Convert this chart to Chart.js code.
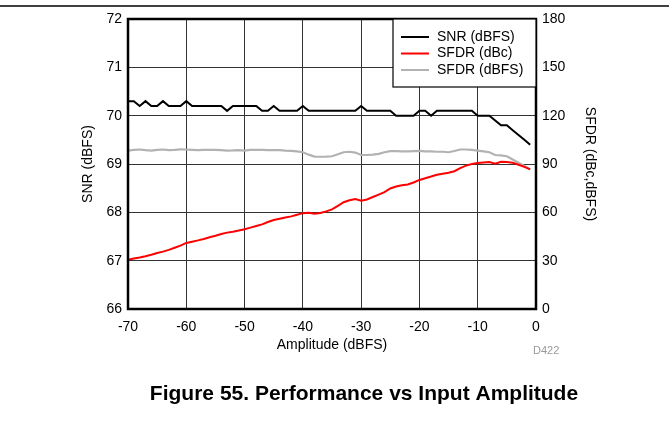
<!DOCTYPE html>
<html>
<head>
<meta charset="utf-8">
<script src="https://cdn.jsdelivr.net/npm/chart.js@4.4.0/dist/chart.umd.min.js"></script>
<style>
html, body { margin: 0; padding: 0; background: #fff; }
#wrap { width: 669px; height: 434px; }
</style>
</head>
<body>
<div id="wrap"><canvas id="perfChart" width="669" height="434"></canvas></div>
<script>
// input amplitude (dBFS)
const amplitude = [-70, -69, -68, -67, -66, -65, -64, -63, -62, -61,
    -60, -59, -58, -57, -56, -55, -54, -53, -52, -51,
    -50, -49, -48, -47, -46, -45, -44, -43, -42, -41,
    -40, -39, -38, -37, -36, -35, -34, -33, -32, -31,
    -30, -29, -28, -27, -26, -25, -24, -23, -22, -21,
    -20, -19, -18, -17, -16, -15, -14, -13, -12, -11,
    -10, -9, -8, -7, -6, -5, -4, -3, -2, -1];

const snr = [70.3, 70.3, 70.2, 70.3, 70.2, 70.2, 70.3, 70.2, 70.2, 70.2,
    70.3, 70.2, 70.2, 70.2, 70.2, 70.2, 70.2, 70.1, 70.2, 70.2,
    70.2, 70.2, 70.2, 70.1, 70.1, 70.2, 70.1, 70.1, 70.1, 70.1,
    70.2, 70.1, 70.1, 70.1, 70.1, 70.1, 70.1, 70.1, 70.1, 70.1,
    70.2, 70.1, 70.1, 70.1, 70.1, 70.1, 70.0, 70.0, 70.0, 70.0,
    70.1, 70.1, 70.0, 70.1, 70.1, 70.1, 70.1, 70.1, 70.1, 70.1,
    70.0, 70.0, 70.0, 69.9, 69.8, 69.8, 69.7, 69.6, 69.5, 69.4];

const sfdrDbc = [30.5, 31.3, 32.0, 32.8, 33.7, 34.8, 35.6, 36.7, 38.0, 39.3,
    41.0, 41.8, 42.6, 43.5, 44.5, 45.5, 46.6, 47.4, 48.0, 48.7,
    49.5, 50.5, 51.5, 52.5, 54.0, 55.2, 56.0, 56.8, 57.5, 58.5,
    59.5, 59.8, 59.2, 59.6, 60.6, 61.8, 64.0, 66.3, 67.5, 68.3,
    67.2, 68.0, 69.5, 71.0, 72.5, 74.8, 76.0, 76.8, 77.3, 78.5,
    80.1, 81.2, 82.2, 83.3, 84.0, 84.6, 85.5, 87.5, 89.0, 90.0,
    90.6, 91.0, 91.2, 90.2, 91.4, 91.3, 90.8, 89.5, 88.2, 86.7];

const sfdrDbfs = [98.3, 98.8, 99.0, 98.6, 98.3, 98.8, 99.0, 98.6, 98.8, 99.1,
    99.0, 98.8, 98.6, 98.8, 98.8, 98.8, 98.6, 98.3, 98.4, 98.6,
    98.3, 98.8, 98.8, 98.8, 98.6, 98.6, 98.6, 98.3, 98.1, 97.8,
    97.3, 95.8, 94.6, 94.5, 94.6, 94.8, 96.1, 97.3, 97.6, 97.1,
    95.6, 95.6, 95.8, 96.3, 97.3, 98.0, 98.0, 97.8, 97.8, 98.0,
    98.1, 97.8, 97.8, 97.6, 97.6, 97.3, 98.1, 99.0, 99.0, 98.8,
    98.3, 97.8, 97.3, 95.6, 95.3, 94.8, 92.8, 90.8, 88.8, 86.7];

const seriesLabels = ['SNR (dBFS)', 'SFDR (dBc)', 'SFDR (dBFS)'];
const seriesColors = ['#000000', '#ff0000', '#b2b2b2'];

const FONT = 'Arial, "Liberation Sans", sans-serif';
Chart.defaults.font.family = FONT;
Chart.defaults.font.size = 14;
Chart.defaults.color = '#000';

function toPoints(ys) {
    return amplitude.map((x, i) => ({ x: x, y: ys[i] }));
}

// frame, legend box, header rule, figure caption
const decor = {
    id: 'decor',
    afterDraw(chart) {
        const ctx = chart.ctx;
        const a = chart.chartArea;
        ctx.save();
        // rule at top of page
        ctx.strokeStyle = '#000';
        ctx.lineWidth = 1.5;
        ctx.beginPath();
        ctx.moveTo(0, 6);
        ctx.lineTo(669, 6);
        ctx.stroke();

        // plot frame
        ctx.lineWidth = 2.5;
        ctx.strokeRect(a.left, a.top, a.right - a.left, a.bottom - a.top);

        // legend
        const lx = 393, ly = a.top, lw = a.right - lx, lh = 68;
        ctx.fillStyle = '#fff';
        ctx.fillRect(lx, ly, lw, lh);
        ctx.lineWidth = 1.2;
        ctx.strokeRect(lx, ly, lw, lh);
        ctx.font = '14px ' + FONT;
        ctx.textBaseline = 'middle';
        chart.data.datasets.forEach((ds, i) => {
            const y = ly + 18 + i * 16.5;
            ctx.strokeStyle = ds.borderColor;
            ctx.lineWidth = 2;
            ctx.beginPath();
            ctx.moveTo(lx + 8, y);
            ctx.lineTo(lx + 36, y);
            ctx.stroke();
            ctx.fillStyle = '#000';
            ctx.fillText(ds.label, lx + 44, y);
        });

        // plot id
        ctx.fillStyle = '#999';
        ctx.font = '11px ' + FONT;
        ctx.textAlign = 'left';
        ctx.fillText('D422', 533, 351);

        // caption
        ctx.fillStyle = '#000';
        ctx.font = 'bold 21px ' + FONT;
        ctx.textAlign = 'center';
        ctx.fillText('Figure 55. Performance vs Input Amplitude', 364, 394);
        ctx.restore();
    }
};

new Chart(document.getElementById('perfChart').getContext('2d'), {
    type: 'line',
    data: {
        datasets: [{
            label: seriesLabels[0],
            data: toPoints(snr),
            borderColor: seriesColors[0],
            borderWidth: 2,
            yAxisID: 'ySnr'
        }, {
            label: seriesLabels[1],
            data: toPoints(sfdrDbc),
            borderColor: seriesColors[1],
            borderWidth: 2,
            yAxisID: 'ySfdr'
        }, {
            label: seriesLabels[2],
            data: toPoints(sfdrDbfs),
            borderColor: seriesColors[2],
            borderWidth: 2.2,
            yAxisID: 'ySfdr'
        }]
    },
    options: {
        responsive: false,
        animation: false,
        elements: { point: { radius: 0 }, line: { tension: 0 } },
        layout: { padding: { left: 0, right: 0, top: 19, bottom: 80 } },
        plugins: { legend: { display: false }, tooltip: { enabled: false } },
        scales: {
            x: {
                type: 'linear',
                min: -70,
                max: 0,
                ticks: { stepSize: 10, padding: 10, maxRotation: 0 },
                grid: { color: '#333', lineWidth: 1, drawTicks: false },
                border: { display: false },
                title: { display: true, text: 'Amplitude (dBFS)', padding: { top: 3, bottom: 0 } },
                afterFit(scale) { scale.height = 45; }
            },
            ySnr: {
                position: 'left',
                min: 66,
                max: 72,
                ticks: { stepSize: 1, padding: 6 },
                grid: { color: '#333', lineWidth: 1, drawTicks: false },
                border: { display: false },
                title: { display: true, text: 'SNR (dBFS)', padding: { top: 80, bottom: 0 } },
                afterFit(scale) { scale.width = 128; }
            },
            ySfdr: {
                position: 'right',
                min: 0,
                max: 180,
                ticks: { stepSize: 30, padding: 6 },
                grid: { display: false, drawTicks: false },
                border: { display: false },
                title: { display: true, text: 'SFDR (dBc,dBFS)', padding: { top: 71, bottom: 0 } },
                afterFit(scale) { scale.width = 133; }
            }
        }
    },
    plugins: [decor]
});
</script>
</body>
</html>
